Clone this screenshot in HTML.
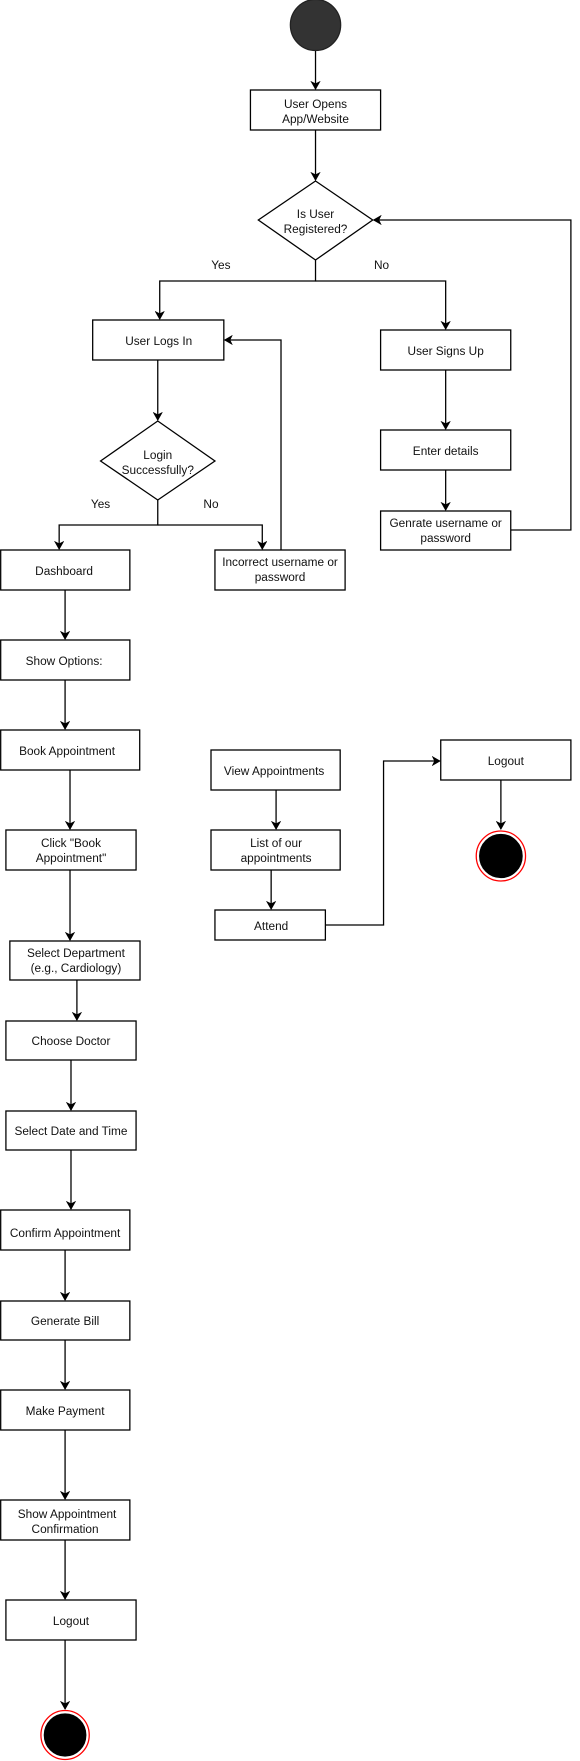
<!DOCTYPE html>
<html><head><meta charset="utf-8"><style>
html,body{margin:0;padding:0;background:#fff;}
svg{display:block;}
text{font-family:"Liberation Sans",Arial,sans-serif;font-size:12px;fill:#111;text-anchor:middle;}
</style></head><body>
<svg width="580" height="1761" viewBox="0 0 580 1761" xmlns="http://www.w3.org/2000/svg">
<defs>
<marker id="a" markerWidth="10" markerHeight="10" refX="8" refY="5" orient="auto" markerUnits="userSpaceOnUse">
<path d="M1,1 L8,5 L1,9 L3,5 Z" fill="#000" stroke="#000" stroke-width="1"/>
</marker>
</defs>
<g transform="matrix(0.986 0 0 1 0 0)">
<g fill="none" stroke="#000" stroke-width="1.3">
<circle cx="320" cy="25" r="25.5" fill="#333" stroke="#222"/>
<line x1="320" y1="51" x2="320" y2="89" marker-end="url(#a)"/>
<rect x="254" y="90" width="132" height="40" fill="#fff"/>
<line x1="320" y1="130" x2="320" y2="180" marker-end="url(#a)"/>
<polygon points="320,181 378,220 320,260 262,220" fill="#fff"/>
<polyline points="320,260 320,281 162,281 162,319" marker-end="url(#a)"/>
<polyline points="320,281 452,281 452,329" marker-end="url(#a)"/>
<rect x="94" y="320" width="133" height="40" fill="#fff"/>
<rect x="386" y="330" width="132" height="40" fill="#fff"/>
<line x1="452" y1="370" x2="452" y2="429" marker-end="url(#a)"/>
<rect x="386" y="430" width="132" height="40" fill="#fff"/>
<line x1="452" y1="470" x2="452" y2="510" marker-end="url(#a)"/>
<rect x="386" y="511" width="132" height="39" fill="#fff"/>
<polyline points="518,530 579,530 579,220 379,220" marker-end="url(#a)"/>
<line x1="160" y1="360" x2="160" y2="420" marker-end="url(#a)"/>
<polygon points="160,421 218,461 160,500 102,461" fill="#fff"/>
<polyline points="160,500 160,525 60,525 60,549" marker-end="url(#a)"/>
<polyline points="160,525 266,525 266,549" marker-end="url(#a)"/>
<rect x="0.7" y="550" width="131" height="40" fill="#fff"/>
<rect x="218" y="550" width="132" height="40" fill="#fff"/>
<polyline points="285,550 285,340 228,340" marker-end="url(#a)"/>
<line x1="66" y1="590" x2="66" y2="639" marker-end="url(#a)"/>
<rect x="0.7" y="640" width="131" height="40" fill="#fff"/>
<line x1="66" y1="680" x2="66" y2="729" marker-end="url(#a)"/>
<rect x="0.7" y="730" width="141" height="40" fill="#fff"/>
<line x1="71" y1="770" x2="71" y2="829" marker-end="url(#a)"/>
<rect x="6" y="830" width="132" height="40" fill="#fff"/>
<line x1="71" y1="870" x2="71" y2="940" marker-end="url(#a)"/>
<rect x="10" y="941" width="132" height="39" fill="#fff"/>
<line x1="78" y1="980" x2="78" y2="1020" marker-end="url(#a)"/>
<rect x="6" y="1021" width="132" height="39" fill="#fff"/>
<line x1="72" y1="1060" x2="72" y2="1110" marker-end="url(#a)"/>
<rect x="6" y="1111" width="132" height="39" fill="#fff"/>
<line x1="72" y1="1150" x2="72" y2="1209" marker-end="url(#a)"/>
<rect x="0.7" y="1210" width="131" height="40" fill="#fff"/>
<line x1="66" y1="1250" x2="66" y2="1300" marker-end="url(#a)"/>
<rect x="0.7" y="1301" width="131" height="39" fill="#fff"/>
<line x1="66" y1="1340" x2="66" y2="1389" marker-end="url(#a)"/>
<rect x="0.7" y="1390" width="131" height="40" fill="#fff"/>
<line x1="66" y1="1430" x2="66" y2="1499" marker-end="url(#a)"/>
<rect x="0.7" y="1500" width="131" height="40" fill="#fff"/>
<line x1="66" y1="1540" x2="66" y2="1599" marker-end="url(#a)"/>
<rect x="6" y="1600" width="132" height="40" fill="#fff"/>
<line x1="66" y1="1640" x2="66" y2="1709" marker-end="url(#a)"/>
<circle cx="66" cy="1735" r="24.5" fill="#fff" stroke="#f00"/>
<circle cx="66" cy="1735" r="21" fill="#000" stroke="#000"/>
<rect x="214" y="750" width="131" height="40" fill="#fff"/>
<line x1="280" y1="790" x2="280" y2="829" marker-end="url(#a)"/>
<rect x="214" y="830" width="131" height="40" fill="#fff"/>
<line x1="275" y1="870" x2="275" y2="909" marker-end="url(#a)"/>
<rect x="218" y="910" width="112" height="30" fill="#fff"/>
<polyline points="330,925 389,925 389,761 446,761" marker-end="url(#a)"/>
<rect x="447" y="740" width="132" height="40" fill="#fff"/>
<line x1="508" y1="780" x2="508" y2="829" marker-end="url(#a)"/>
<circle cx="508" cy="856" r="25" fill="#fff" stroke="#f00"/>
<circle cx="508" cy="856" r="21.5" fill="#000" stroke="#000"/>
</g>
<text x="320" y="108">User Opens</text><text x="320" y="123">App/Website</text>
<text x="320" y="218">Is User</text><text x="320" y="233">Registered?</text>
<text x="224" y="269">Yes</text><text x="387" y="269">No</text>
<text x="161" y="345">User Logs In</text>
<text x="452" y="355">User Signs Up</text>
<text x="452" y="455">Enter details</text>
<text x="452" y="527">Genrate username or</text><text x="452" y="542">password</text>
<text x="160" y="459">Login</text><text x="160" y="474">Successfully?</text>
<text x="102" y="508">Yes</text><text x="214" y="508">No</text>
<text x="65" y="575">Dashboard</text>
<text x="284" y="566">Incorrect username or</text><text x="284" y="581">password</text>
<text x="65" y="665">Show Options:</text>
<text x="68" y="755">Book Appointment</text>
<text x="72" y="847">Click "Book</text><text x="72" y="862">Appointment"</text>
<text x="77" y="957">Select Department</text><text x="77" y="972">(e.g., Cardiology)</text>
<text x="72" y="1045">Choose Doctor</text>
<text x="72" y="1135">Select Date and Time</text>
<text x="66" y="1237">Confirm Appointment</text>
<text x="66" y="1325">Generate Bill</text>
<text x="66" y="1415">Make Payment</text>
<text x="68" y="1518">Show Appointment</text><text x="66" y="1533">Confirmation</text>
<text x="72" y="1625">Logout</text>
<text x="278" y="775">View Appointments</text>
<text x="280" y="847">List of our</text><text x="280" y="862">appointments</text>
<text x="275" y="930">Attend</text>
<text x="513" y="765">Logout</text>
</g>
</svg>
</body></html>
